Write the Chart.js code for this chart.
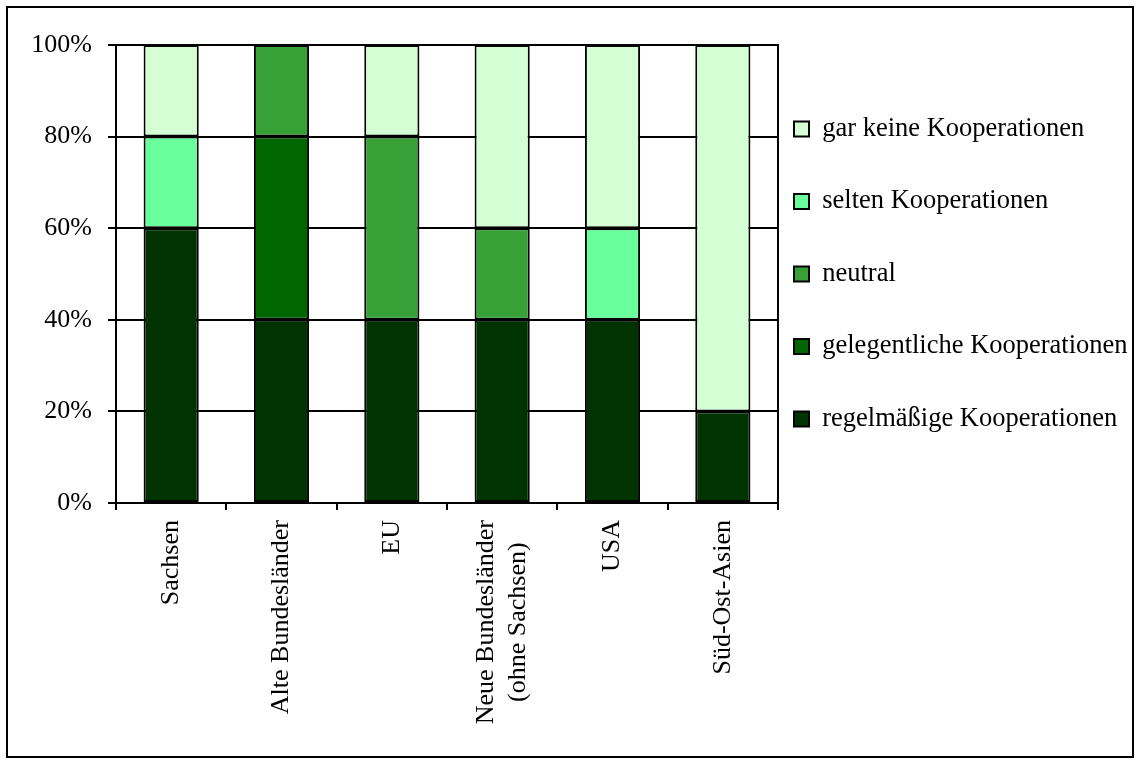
<!DOCTYPE html>
<html>
<head>
<meta charset="utf-8">
<script src="https://cdn.jsdelivr.net/npm/chart.js@4.4.1/dist/chart.umd.min.js"></script>
<style>
	html, body { margin: 0; padding: 0; background: #fff; }
	#wrap { position: relative; width: 1140px; height: 763px; }
	#frame { position: absolute; left: 6px; top: 6px; width: 1128px; height: 752px; border: 2px solid #000; box-sizing: border-box; pointer-events: none; }
</style>
</head>
<body>
<div id="wrap">
	<canvas id="coop-chart"></canvas>
	<div id="frame"></div>
</div>
<script>
// categories and shares (percent) per answer
const categories = ['Sachsen', 'Alte Bundesländer', 'EU', ['Neue Bundesländer', '(ohne Sachsen)'], 'USA', 'Süd-Ost-Asien'];
const regelmaessig = [60, 40, 40, 40, 40, 20];
const gelegentlich = [0, 40, 0, 0, 0, 0];
const neutral = [0, 20, 40, 20, 0, 0];
const selten = [20, 0, 0, 0, 20, 0];
const garKeine = [20, 0, 20, 40, 40, 80];
const yTicks = [0, 20, 40, 60, 80, 100];

Chart.defaults.font.family = "'Liberation Serif', 'Times New Roman', serif";
Chart.defaults.font.size = 26;
Chart.defaults.color = '#000';

// legend: fixed width, boxes start a bit left of where chart.js puts them
const legendFit = {
	id: 'legendFit',
	beforeInit(chart) {
		const legend = chart.legend;
		const fit = legend.fit;
		legend.fit = function () {
			fit.call(this);
			this.width = 362;
		};
	},
	afterLayout(chart) {
		chart.legend.left -= 30;
	}
};

// two-line tick label: centre both lines on the tick and on each other
const centerLines = {
	id: 'centerLines',
	beforeDraw(chart) {
		const ctx = chart.ctx;
		chart.scales.x.getLabelItems().forEach(function (item) {
			if (!Array.isArray(item.label) || item.done) return;
			ctx.save();
			ctx.font = item.font.string;
			const widths = item.label.map(t => ctx.measureText(t).width);
			ctx.restore();
			item.options.translation[0] -= item.font.lineHeight * (item.label.length - 1) / 2;
			item.options.translation[1] += Math.max.apply(null, widths) / 2;
			item.options.textAlign = 'center';
			item.done = true;
		});
	}
};

// plot area frame
const plotFrame = {
	id: 'plotFrame',
	beforeDatasetsDraw(chart) {
		const a = chart.chartArea;
		const ctx = chart.ctx;
		ctx.save();
		ctx.strokeStyle = '#000';
		ctx.lineWidth = 2;
		ctx.strokeRect(Math.round(a.left), Math.round(a.top), Math.round(a.right - a.left), Math.round(a.bottom - a.top));
		ctx.restore();
	}
};

function bar(label, data, color) {
	return {
		label: label,
		data: data,
		backgroundColor: color,
		borderColor: '#000',
		borderWidth: 2,
		borderSkipped: false,
		barPercentage: 0.5,
		categoryPercentage: 1.0
	};
}

new Chart('coop-chart', {
	type: 'bar',
	data: {
		labels: categories,
		datasets: [
			bar('regelmäßige Kooperationen', regelmaessig, '#003300'),
			bar('gelegentliche Kooperationen', gelegentlich, '#006600'),
			bar('neutral', neutral, '#37A037'),
			bar('selten Kooperationen', selten, '#68FF9C'),
			bar('gar keine Kooperationen', garKeine, '#D4FFD4')
		]
	},
	options: {
		responsive: true,
		maintainAspectRatio: false,
		animation: false,
		layout: { padding: { top: 45, left: 0, right: 0, bottom: 0 } },
		plugins: {
			legend: {
				position: 'right',
				fullSize: false,
				reverse: true,
				align: 'center',
				labels: {
					boxWidth: 15,
					boxHeight: 15,
					padding: 46,
					color: '#000',
					font: { size: 26.5 }
				}
			},
			tooltip: { enabled: false }
		},
		scales: {
			x: {
				stacked: true,
				offset: true,
				afterFit: s => { s.height = 260; },
				grid: { drawOnChartArea: false, drawTicks: true, tickLength: 7, color: '#000', lineWidth: 2, offset: true },
				border: { color: '#000', width: 2 },
				ticks: { autoSkip: false, maxRotation: 90, minRotation: 90, padding: 10, color: '#000' }
			},
			y: {
				stacked: true,
				min: 0,
				max: 100,
				afterFit: s => { s.width = 116; },
				afterBuildTicks: s => { s.ticks = yTicks.map(v => ({ value: v })); },
				grid: { color: '#000', lineWidth: 2, tickLength: 8 },
				border: { color: '#000', width: 2 },
				ticks: { padding: 16, color: '#000', callback: v => v + '%' }
			}
		}
	},
	plugins: [legendFit, centerLines, plotFrame]
});
</script>
</body>
</html>
